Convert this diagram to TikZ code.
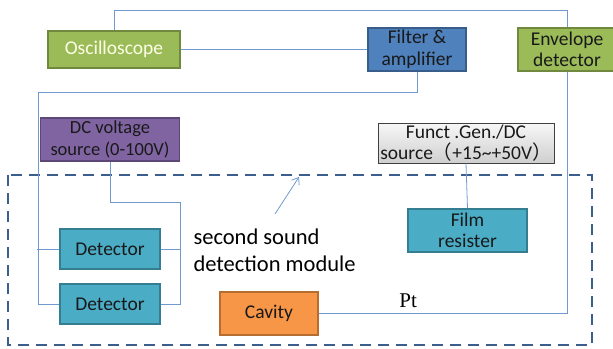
\documentclass[tikz,border=0pt]{standalone}
\usepackage{fontspec}
\setmainfont{Carlito}
\newfontfamily\cjk{Noto Sans CJK SC}
\newfontfamily\rmtimes{Liberation Serif}
\usepackage{tikz}
\usetikzlibrary{arrows.meta}

\definecolor{grnfill}{HTML}{9BBB59}
\definecolor{grnline}{HTML}{71893F}
\definecolor{bluefill}{HTML}{4F81BD}
\definecolor{blueline}{HTML}{385D8A}
\definecolor{purfill}{HTML}{8064A2}
\definecolor{purline}{HTML}{5C4776}
\definecolor{aquafill}{HTML}{4BACC6}
\definecolor{aqualine}{HTML}{357D91}
\definecolor{orgfill}{HTML}{F79646}
\definecolor{orgline}{HTML}{B66D31}
\definecolor{wirecol}{HTML}{7099CF}
\definecolor{dashcol}{HTML}{3B5E8C}

\begin{document}
\begin{tikzpicture}[x=1pt,y=-1pt,
  box/.style={draw, line width=1.6pt, inner sep=0pt, align=center,
    font=\fontsize{19.5}{21.5}\selectfont, text=black!90},
  wire/.style={draw=wirecol, line width=0.8pt}]
\useasboundingbox (0,0) rectangle (613,348);

% module frame
\draw [dashcol, line width=2.6pt, dash pattern=on 11pt off 7pt] (8,175) rectangle (592,345);

% instruments
\node (osc) at (114,49.5) [box, fill=grnfill, draw=grnline, minimum width=132, minimum height=37, text=green!8!yellow!10] {Oscilloscope};
\node (filt) at (417,49.5) [box, fill=bluefill, draw=blueline, minimum width=98, minimum height=43] {Filter \&\\amplifier};
\node (env) at (567,49.5) [box, fill=grnfill, draw=grnline, minimum width=98, minimum height=43] {Envelope\\detector};
\node (dc) at (110,139.5) [box, fill=purfill, draw=purline, minimum width=139, minimum height=43, font=\fontsize{18.5}{21.5}\selectfont] {DC voltage\\source (0-100V)};
\node (fgen) at (466,143) [box, draw=black!75, line width=1pt, top color=gray!6, bottom color=gray!38, minimum width=176, minimum height=40] {Funct .Gen./DC\\source{\cjk （}+15\textasciitilde+50V{\cjk ）}};
\node (film) at (467.5,230.5) [box, fill=aquafill, draw=aqualine, minimum width=119, minimum height=43] {Film\\resister};
\node (det1) at (110,249) [box, fill=aquafill, draw=aqualine, minimum width=100, minimum height=40] {Detector};
\node (det2) at (110,304) [box, fill=aquafill, draw=aqualine, minimum width=100, minimum height=40] {Detector};
\node (cav) at (269,313.5) [box, fill=orgfill, draw=orgline, minimum width=98, minimum height=43] {Cavity};

% wiring
\draw [wire] (osc.north) -- ++(0,-20) -| (env.north);
\draw [wire] (osc.east) -- (filt.west);
\draw [wire] (filt.south) |- (38,92) |- (det2.west);
\draw [wire] (det1.west) -- ++(-22,0);
\draw [wire] (dc.south) |- (180,202) |- (det2.east);
\draw [wire] (det1.east) -- ++(20,0);
\draw [wire] (fgen.south) -- (film.north);
\draw [wire] (env.south) |- (cav.east) node (pt) [pos=0.82, above=2pt, font=\rmtimes\fontsize{21}{21}\selectfont, text=black] {Pt};

% label of the module
\node (lbl) at (190,250) [anchor=west, align=left, font=\fontsize{22.5}{27}\selectfont, text=black] {second sound\\detection module};
\coordinate (tip) at (299,177);
\draw [wire, -{Straight Barb[length=6pt,width=9pt]}] (275,214) -- (tip);
\end{tikzpicture}
\end{document}
